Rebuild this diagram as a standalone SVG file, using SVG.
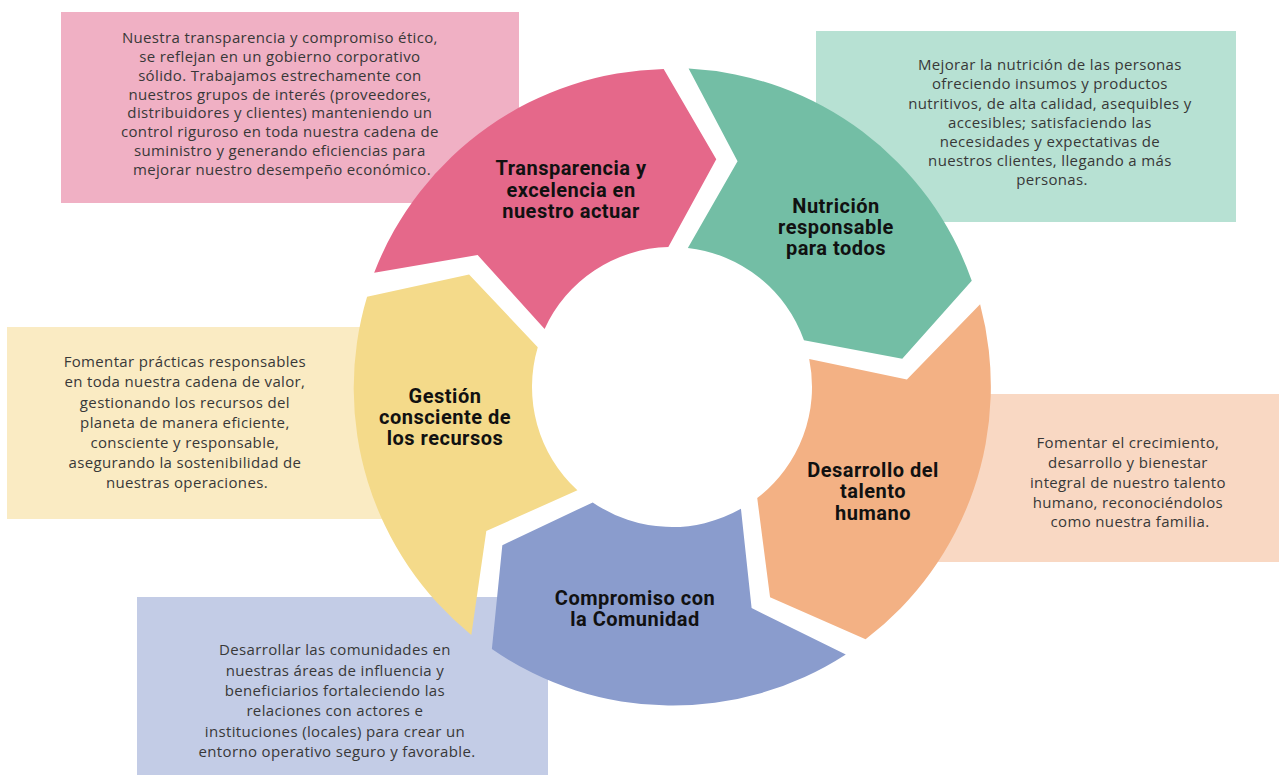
<svg xmlns="http://www.w3.org/2000/svg" xmlns:xlink="http://www.w3.org/1999/xlink" width="1279" height="775" viewBox="0 0 1279 775">
  <style>
    .body { font-family: "Open Sans", "Liberation Sans", sans-serif; font-size: 15px; letter-spacing: 0.35px; fill: #383838; text-anchor: middle; }
    .title { font-family: Roboto, "Liberation Sans", sans-serif; font-size: 20px; letter-spacing: 0.5px; font-weight: bold; fill: #111111; text-anchor: middle; }
  </style>
  <defs>
    <path id="arrowShape" d="M 318.02 24.95 A 318 318 0 0 1 98.27 302.44 L 22.24 230.93 L 43.26 133.15 A 140 140 0 0 0 138.64 19.48 L 223.88 71.45 Z"/>
  </defs>
  <rect width="1279" height="775" fill="#ffffff"/>

  <!-- description boxes (behind the cycle) -->
  <g id="desc-transparencia">
    <rect x="61" y="12" width="458" height="191" fill="#F0B0C4"/>
    <text class="body">
      <tspan x="282" y="43">Nuestra transparencia y compromiso ético,</tspan>
      <tspan x="282" y="62">se reflejan en un gobierno corporativo</tspan>
      <tspan x="282" y="81">sólido. Trabajamos estrechamente con</tspan>
      <tspan x="282" y="99.5">nuestros grupos de interés (proveedores,</tspan>
      <tspan x="282" y="118">distribuidores y clientes) manteniendo un</tspan>
      <tspan x="282" y="137">control riguroso en toda nuestra cadena de</tspan>
      <tspan x="282" y="156">suministro y generando eficiencias para</tspan>
      <tspan x="282" y="175">mejorar nuestro desempeño económico.</tspan>
    </text>
  </g>
  <g id="desc-nutricion">
    <rect x="816" y="31" width="420" height="191" fill="#B7E1D3"/>
    <text class="body">
      <tspan x="1052" y="70">Mejorar la nutrición de las personas</tspan>
      <tspan x="1052" y="89">ofreciendo insumos y productos</tspan>
      <tspan x="1052" y="108.5">nutritivos, de alta calidad, asequibles y</tspan>
      <tspan x="1052" y="127.5">accesibles; satisfaciendo las</tspan>
      <tspan x="1052" y="147">necesidades y expectativas de</tspan>
      <tspan x="1052" y="166">nuestros clientes, llegando a más</tspan>
      <tspan x="1052" y="185">personas.</tspan>
    </text>
  </g>
  <g id="desc-gestion">
    <rect x="7" y="327" width="413" height="192" fill="#FAEBC3"/>
    <text class="body">
      <tspan x="187" y="367">Fomentar prácticas responsables</tspan>
      <tspan x="187" y="387">en toda nuestra cadena de valor,</tspan>
      <tspan x="187" y="407.5">gestionando los recursos del</tspan>
      <tspan x="187" y="427.5">planeta de manera eficiente,</tspan>
      <tspan x="187" y="448">consciente y responsable,</tspan>
      <tspan x="187" y="468">asegurando la sostenibilidad de</tspan>
      <tspan x="187" y="488">nuestras operaciones.</tspan>
    </text>
  </g>
  <g id="desc-talento">
    <rect x="900" y="394" width="379" height="168" fill="#F9D8C3"/>
    <text class="body">
      <tspan x="1130" y="448">Fomentar el crecimiento,</tspan>
      <tspan x="1130" y="468">desarrollo y bienestar</tspan>
      <tspan x="1130" y="487.5">integral de nuestro talento</tspan>
      <tspan x="1130" y="507.5">humano, reconociéndolos</tspan>
      <tspan x="1130" y="527">como nuestra familia.</tspan>
    </text>
  </g>
  <g id="desc-comunidad">
    <rect x="137" y="597" width="411" height="178" fill="#C3CCE6"/>
    <text class="body">
      <tspan x="337" y="655">Desarrollar las comunidades en</tspan>
      <tspan x="337" y="675.5">nuestras áreas de influencia y</tspan>
      <tspan x="337" y="696">beneficiarios fortaleciendo las</tspan>
      <tspan x="337" y="716">relaciones con actores e</tspan>
      <tspan x="337" y="736.5">instituciones (locales) para crear un</tspan>
      <tspan x="337" y="757">entorno operativo seguro y favorable.</tspan>
    </text>
  </g>

  <!-- cycle arrows -->
  <g id="node-transparencia">
    <use xlink:href="#arrowShape" href="#arrowShape" transform="translate(672,387) rotate(196.5)" fill="#E5688A"/>
    <text class="title"><tspan x="571" y="175">Transparencia y</tspan><tspan x="571" y="196.5">excelencia en</tspan><tspan x="571" y="218">nuestro actuar</tspan></text>
  </g>
  <g id="node-nutricion">
    <use xlink:href="#arrowShape" href="#arrowShape" transform="translate(672,387) rotate(268.5)" fill="#73BEA5"/>
    <text class="title"><tspan x="836" y="213">Nutrición</tspan><tspan x="836" y="234">responsable</tspan><tspan x="836" y="255">para todos</tspan></text>
  </g>
  <g id="node-talento">
    <use xlink:href="#arrowShape" href="#arrowShape" transform="translate(672,387) rotate(340.5)" fill="#F3B184"/>
    <text class="title"><tspan x="873" y="477">Desarrollo del</tspan><tspan x="873" y="498">talento</tspan><tspan x="873" y="520">humano</tspan></text>
  </g>
  <g id="node-comunidad">
    <use xlink:href="#arrowShape" href="#arrowShape" transform="translate(672,387) rotate(52.5)" fill="#8A9CCD"/>
    <text class="title"><tspan x="635" y="605">Compromiso con</tspan><tspan x="635" y="626">la Comunidad</tspan></text>
  </g>
  <g id="node-gestion">
    <use xlink:href="#arrowShape" href="#arrowShape" transform="translate(672,387) rotate(124.5)" fill="#F4DA8A"/>
    <text class="title"><tspan x="445" y="403">Gestión</tspan><tspan x="445" y="424">consciente de</tspan><tspan x="445" y="445">los recursos</tspan></text>
  </g>
</svg>
